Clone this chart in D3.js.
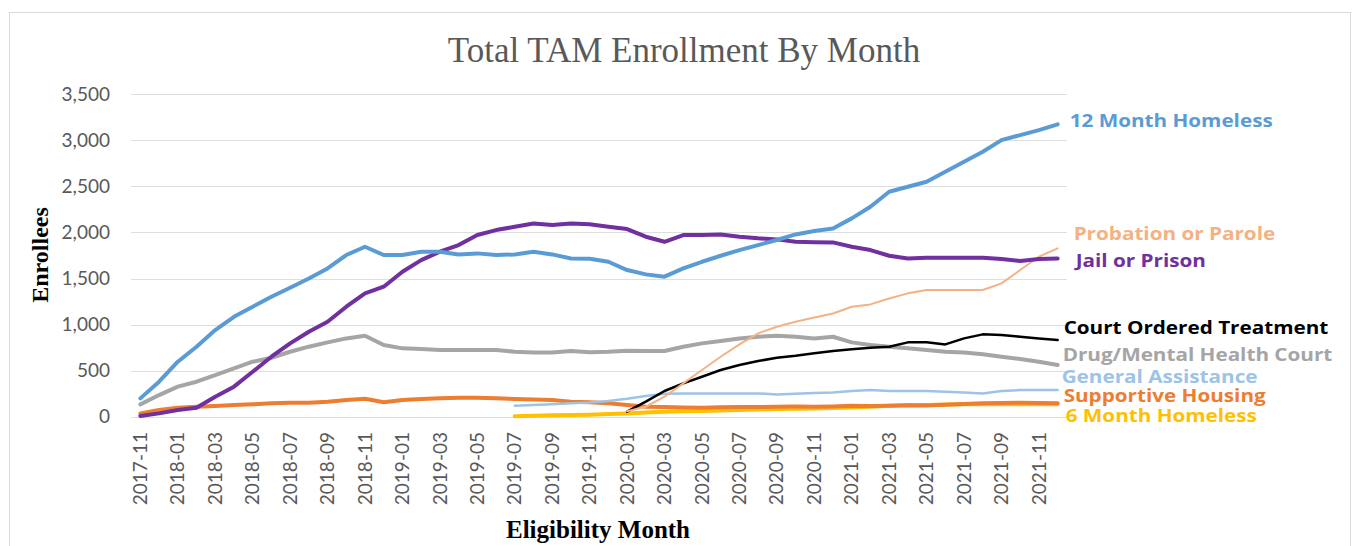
<!DOCTYPE html>
<html>
<head>
<meta charset="utf-8">
<script src="https://cdn.jsdelivr.net/npm/d3@7"></script>
<style>
  body { margin: 0; background: #fff; }
  svg { display: block; }
</style>
</head>
<body>
<div class="grafico"></div>
<script>
// months 2017-11 .. 2021-12
var months = [];
for (var yr = 2017, mo = 11; months.length < 50; ) {
  months.push(yr + "-" + (mo < 10 ? "0" + mo : mo));
  mo++; if (mo > 12) { mo = 1; yr++; }
}

var yTicks = [0, 500, 1000, 1500, 2000, 2500, 3000, 3500];

// values (null = no data yet)
var homeless12 = [199, 380, 597, 760, 940, 1085, 1194, 1302, 1400, 1501, 1610, 1755, 1845, 1755, 1755, 1790, 1790, 1760, 1773, 1755,
  1762, 1790, 1762, 1718, 1715, 1682, 1592, 1545, 1520, 1610, 1682, 1747, 1809, 1863, 1918, 1979, 2015, 2044, 2153, 2279,
  2442, 2496, 2551, 2659, 2768, 2876, 3003, 3057, 3111, 3173];
var jail = [7, 36, 72, 98, 217, 326, 488, 651, 796, 923, 1031, 1194, 1340, 1411, 1574, 1700, 1791, 1863, 1972, 2026,
  2062, 2098, 2080, 2098, 2090, 2062, 2037, 1954, 1899, 1972, 1972, 1979, 1954, 1936, 1925, 1900, 1895, 1892, 1845, 1809,
  1747, 1718, 1726, 1726, 1726, 1726, 1711, 1690, 1711, 1718];
var drugCourt = [134, 235, 326, 380, 452, 525, 597, 640, 705, 760, 807, 850, 879, 778, 742, 734, 724, 724, 724, 724,
  705, 698, 698, 713, 700, 705, 716, 713, 713, 760, 796, 821, 850, 868, 879, 868, 850, 868, 807, 778,
  760, 742, 724, 705, 698, 677, 651, 626, 597, 561];
var courtOrdered = [null, null, null, null, null, null, null, null, null, null, null, null, null, null, null, null, null, null, null, null,
  null, null, null, null, null, null, 54, 163, 279, 362, 434, 507, 561, 604, 640, 662, 690, 713, 731, 749,
  760, 807, 807, 785, 850, 894, 886, 868, 850, 832];
var probation = [null, null, null, null, null, null, null, null, null, null, null, null, null, null, null, null, null, null, null, null,
  null, null, null, null, null, null, 60, 108, 217, 362, 507, 651, 785, 905, 977, 1031, 1076, 1121, 1194, 1219,
  1284, 1339, 1375, 1375, 1375, 1375, 1447, 1592, 1737, 1827];
var generalAssist = [null, null, null, null, null, null, null, null, null, null, null, null, null, null, null, null, null, null, null, null,
  119, 127, 134, 145, 155, 170, 195, 225, 250, 252, 253, 253, 253, 253, 242, 250, 258, 264, 279, 289,
  279, 279, 279, 271, 264, 253, 279, 289, 289, 289];
var supportive = [36, 72, 98, 108, 116, 127, 134, 145, 152, 152, 163, 181, 195, 156, 181, 192, 199, 206, 206, 199,
  192, 188, 181, 163, 156, 145, 127, 108, 105, 100, 98, 102, 105, 104, 108, 110, 108, 112, 118, 115,
  120, 125, 122, 130, 138, 145, 150, 152, 148, 145];
var sixMonth = [null, null, null, null, null, null, null, null, null, null, null, null, null, null, null, null, null, null, null, null,
  5, 10, 15, 18, 22, 28, 36, 45, 54, 58, 62, 66, 72, 78, 83, 86, 90, 95, 100, 108,
  119, 124, 128, 132, 134, 136, 138, 135, 134, 134];

// draw order: back to front
var series = [
  {name: "6 Month Homeless", values: sixMonth, color: "#ffc000", w: 4, labelV: 16, dx: 8},
  {name: "Supportive Housing", values: supportive, color: "#ed7d31", w: 4, labelV: 228, dx: 6},
  {name: "General Assistance", values: generalAssist, color: "#9dc3e6", w: 2.5, labelV: 433, dx: 4},
  {name: "Drug/Mental Health Court", values: drugCourt, color: "#a5a5a5", w: 4, labelV: 670, dx: 5},
  {name: "Court Ordered Treatment", values: courtOrdered, color: "#000000", w: 2.5, labelV: 963, dx: 6},
  {name: "Probation or Parole", values: probation, color: "#f4b183", w: 2, labelV: 1983, dx: 16},
  {name: "Jail or Prison", values: jail, color: "#7030a0", w: 4, labelV: 1690, dx: 18},
  {name: "12 Month Homeless", values: homeless12, color: "#5b9bd5", w: 4, labelV: 3210, dx: 12}
];

var width = 1360, height = 546;
var svg = d3.select(".grafico").append("svg")
  .attr("width", width).attr("height", height);

// chart frame
svg.append("rect")
  .attr("x", 9.5).attr("y", 12.5)
  .attr("width", 1341).attr("height", 545)
  .attr("fill", "#fff").attr("stroke", "#d9d9d9");

var x = d3.scaleBand().domain(months).range([131, 1067]).paddingInner(0);
var cx = function(m) { return x(m) + x.bandwidth() / 2; };
var y = d3.scaleLinear().domain([0, 3500]).range([416.7, 94.3]);

// grid
svg.append("g").selectAll("line")
  .data(yTicks).enter().append("line")
  .attr("x1", 131).attr("x2", 1067)
  .attr("y1", function(d) { return Math.round(y(d)) + 0.5; })
  .attr("y2", function(d) { return Math.round(y(d)) + 0.5; })
  .attr("stroke", "#dedede").attr("stroke-width", 1.2);

// y axis labels
var fmt = d3.format(",");
svg.append("g").selectAll("text")
  .data(yTicks).enter().append("text")
  .attr("x", 110).attr("y", function(d) { return y(d); })
  .attr("dy", "0.35em")
  .attr("text-anchor", "end")
  .style("font-family", "Lato, sans-serif").style("font-size", "19px")
  .attr("fill", "#595959")
  .text(function(d) { return fmt(d); });

// x axis labels (every other month)
svg.append("g").selectAll("text")
  .data(months.filter(function(d, i) { return i % 2 === 0; })).enter().append("text")
  .attr("transform", function(d) { return "translate(" + cx(d) + ",432) rotate(-90)"; })
  .attr("dy", "0.35em")
  .attr("text-anchor", "end")
  .style("font-family", "Lato, sans-serif").style("font-size", "19px")
  .attr("fill", "#595959")
  .text(function(d) { return d; });

// lines
var line = d3.line()
  .defined(function(d) { return d != null; })
  .x(function(d, i) { return cx(months[i]); })
  .y(function(d) { return y(d); });

svg.append("g").selectAll("path")
  .data(series).enter().append("path")
  .attr("d", function(s) { return line(s.values); })
  .attr("fill", "none")
  .attr("stroke", function(s) { return s.color; })
  .attr("stroke-width", function(s) { return s.w; })
  .attr("stroke-linejoin", "round")
  .attr("stroke-linecap", "round");

// end labels (the source text is a bit wide, so stretch it horizontally)
var lastX = cx(months[months.length - 1]);
svg.append("g").selectAll("text")
  .data(series).enter().append("text")
  .attr("transform", function(s) { return "translate(" + (lastX + s.dx) + "," + y(s.labelV) + ") scale(1.15,1)"; })
  .attr("dy", "0.35em")
  .style("font-family", "'Open Sans', sans-serif").style("font-size", "18px").style("font-weight", "700")
  .attr("fill", function(s) { return s.color; })
  .text(function(s) { return s.name; });

// title and axis titles
svg.append("text")
  .attr("x", 684).attr("y", 62)
  .attr("text-anchor", "middle")
  .style("font-family", "'Liberation Serif', 'Times New Roman', serif").style("font-size", "35px")
  .attr("fill", "#595959")
  .text("Total TAM Enrollment By Month");

svg.append("text")
  .attr("transform", "translate(40,255) rotate(-90)")
  .attr("dy", "0.35em")
  .attr("text-anchor", "middle")
  .style("font-family", "'Liberation Serif', 'Times New Roman', serif").style("font-size", "24px").style("font-weight", "bold")
  .attr("fill", "#000")
  .text("Enrollees");

svg.append("text")
  .attr("x", 598).attr("y", 538)
  .attr("text-anchor", "middle")
  .style("font-family", "'Liberation Serif', 'Times New Roman', serif").style("font-size", "25px").style("font-weight", "bold")
  .attr("fill", "#000")
  .text("Eligibility Month");
</script>
</body>
</html>
